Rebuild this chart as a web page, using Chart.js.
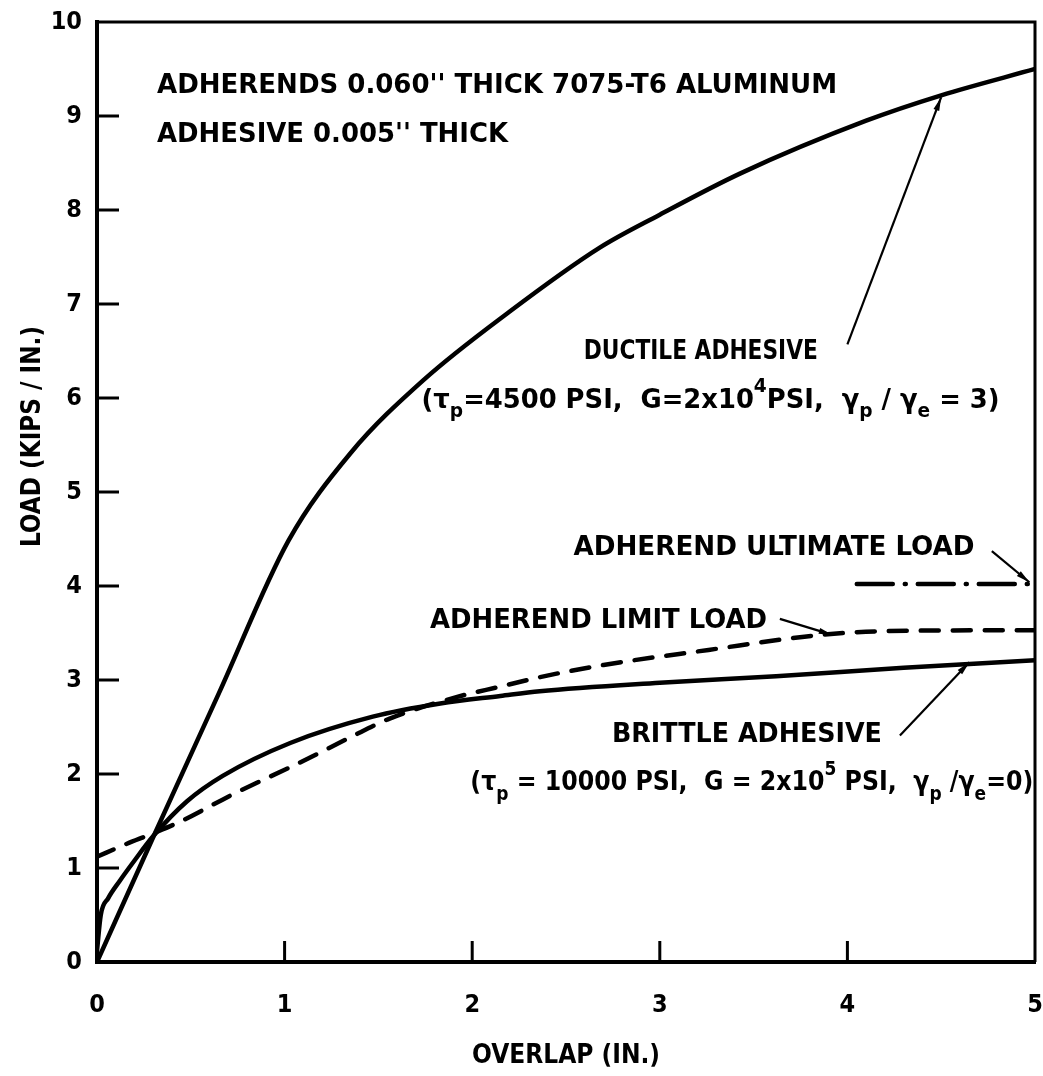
<!DOCTYPE html>
<html>
<head>
<meta charset="utf-8">
<script src="https://cdn.jsdelivr.net/npm/chart.js@4.4.1/dist/chart.umd.min.js"></script>
<style>
    html, body { margin: 0; padding: 0; background: #fff; }
    #wrap { width: 1043px; height: 1076px; }
</style>
</head>
<body>
<div id="wrap"><canvas id="loadChart" width="1043" height="1076"></canvas></div>
<script>
// overlap (in.) vs load (kips/in.)
const ductileX = [0, 0.3, 0.65, 1.02, 1.35, 1.74, 2.2, 2.68, 3.0, 3.43, 4.1, 4.5, 5.0];
const ductileY = [0, 1.33, 2.86, 4.48, 5.41, 6.19, 6.92, 7.6, 7.95, 8.39, 8.95, 9.22, 9.5];

const brittleX = [0, 0.02, 0.06, 0.12, 0.2, 0.3, 0.48, 0.67, 1.03, 1.47, 1.83, 2.15, 2.36, 3.0, 3.62, 4.3, 5.0];
const brittleY = [0.12, 0.5, 0.68, 0.86, 1.08, 1.34, 1.71, 1.98, 2.33, 2.61, 2.75, 2.83, 2.88, 2.97, 3.04, 3.13, 3.21];

const limitX = [0, 0.15, 0.3, 0.44, 0.73, 1.08, 1.35, 1.56, 1.92, 2.15, 2.36, 2.7, 3.26, 3.81, 4.2, 5.0];
const limitY = [1.12, 1.25, 1.37, 1.49, 1.79, 2.12, 2.39, 2.59, 2.82, 2.93, 3.03, 3.16, 3.32, 3.47, 3.52, 3.53];

const ultimateX = [4.05, 5.0];
const ultimateY = [4.02, 4.02];

const xTicks = [0, 1, 2, 3, 4, 5];
const yTicks = [0, 1, 2, 3, 4, 5, 6, 7, 8, 9, 10];

// 注释文字: [x, y, 目标宽度(px), 片段]
const notes = [
    [0.32, 9.32, 680, [['ADHERENDS 0.060\'\' THICK 7075-T6 ALUMINUM']]],
    [0.32, 8.80, 351, [['ADHESIVE 0.005\'\' THICK']]],
    [2.595, 6.49, 234, [['DUCTILE ADHESIVE']]],
    [1.73, 5.97, 578, [['(τ'], ['p', 'sub'], ['=4500 PSI,  G=2x10'], ['4', 'sup'], ['PSI,  γ'], ['p', 'sub'], [' / γ'], ['e', 'sub'], [' = 3)']]],
    [2.54, 4.40, 401, [['ADHEREND ULTIMATE LOAD']]],
    [1.775, 3.63, 337, [['ADHEREND LIMIT LOAD']]],
    [2.745, 2.415, 270, [['BRITTLE ADHESIVE']]],
    [1.99, 1.90, 563, [['(τ'], ['p', 'sub'], [' = 10000 PSI,  G = 2x10'], ['5', 'sup'], [' PSI,  γ'], ['p', 'sub'], [' /γ'], ['e', 'sub'], ['=0)']]]
];

// 箭头: 起点 -> 终点 (数据坐标)
const arrows = [
    [4.0, 6.57, 4.5, 9.2],
    [3.64, 3.65, 3.92, 3.48],
    [4.77, 4.37, 4.97, 4.04],
    [4.28, 2.41, 4.65, 3.19]
];

const FONT = '"Liberation Sans Narrow", "DejaVu Sans Condensed", sans-serif';

function drawRich(ctx, segs, x, y, width, size) {
    const parts = segs.map(s => {
        const sz = s[1] ? size * 0.72 : size;
        ctx.font = 'bold ' + sz + 'px ' + FONT;
        return { t: s[0], kind: s[1], sz: sz, w: ctx.measureText(s[0]).width };
    });
    const total = parts.reduce((a, p) => a + p.w, 0);
    ctx.save();
    ctx.translate(x, y);
    ctx.scale(width / total, 1);
    ctx.fillStyle = '#000';
    ctx.textBaseline = 'middle';
    let cx = 0;
    parts.forEach(p => {
        ctx.font = 'bold ' + p.sz + 'px ' + FONT;
        let dy = 0;
        if (p.kind === 'sub') dy = size * 0.42;
        if (p.kind === 'sup') dy = -size * 0.5;
        ctx.fillText(p.t, cx, dy);
        cx += p.w;
    });
    ctx.restore();
}

const framePlugin = {
    id: 'frame',
    afterDatasetsDraw(chart) {
        const { ctx, chartArea: a, scales: { x, y } } = chart;
        ctx.save();
        ctx.strokeStyle = '#000';
        ctx.lineCap = 'butt';
        // 上边和右边
        ctx.lineWidth = 3;
        ctx.beginPath();
        ctx.moveTo(a.left, a.top);
        ctx.lineTo(a.right, a.top);
        ctx.lineTo(a.right, a.bottom);
        ctx.stroke();
        // 内侧刻度
        ctx.lineWidth = 3;
        yTicks.slice(1, -1).forEach(v => {
            const py = y.getPixelForValue(v);
            ctx.beginPath();
            ctx.moveTo(a.left, py);
            ctx.lineTo(a.left + 22, py);
            ctx.stroke();
        });
        xTicks.slice(1, -1).forEach(v => {
            const px = x.getPixelForValue(v);
            ctx.beginPath();
            ctx.moveTo(px, a.bottom);
            ctx.lineTo(px, a.bottom - 21);
            ctx.stroke();
        });
        // 箭头
        ctx.lineWidth = 2.2;
        arrows.forEach(r => {
            const x0 = x.getPixelForValue(r[0]), y0 = y.getPixelForValue(r[1]);
            const x1 = x.getPixelForValue(r[2]), y1 = y.getPixelForValue(r[3]);
            const ang = Math.atan2(y1 - y0, x1 - x0);
            ctx.beginPath();
            ctx.moveTo(x0, y0);
            ctx.lineTo(x1, y1);
            ctx.stroke();
            ctx.beginPath();
            ctx.moveTo(x1, y1);
            ctx.lineTo(x1 - 14 * Math.cos(ang - 0.22), y1 - 14 * Math.sin(ang - 0.22));
            ctx.lineTo(x1 - 14 * Math.cos(ang + 0.22), y1 - 14 * Math.sin(ang + 0.22));
            ctx.closePath();
            ctx.fillStyle = '#000';
            ctx.fill();
        });
        // 文字
        notes.forEach(n => {
            drawRich(ctx, n[3], x.getPixelForValue(n[0]), y.getPixelForValue(n[1]), n[2], 27);
        });
        // Y轴标题
        ctx.translate(33, 437);
        ctx.rotate(-Math.PI / 2);
        drawRich(ctx, [['LOAD (KIPS / IN.)']], -110, 0, 221, 26);
        ctx.restore();
    }
};

function line(xs, ys, extra) {
    return Object.assign({
        data: xs.map((v, i) => ({ x: v, y: ys[i] })),
        showLine: true,
        borderColor: '#000',
        borderWidth: 4.5,
        pointRadius: 0,
        cubicInterpolationMode: 'monotone',
        borderCapStyle: 'round',
        borderJoinStyle: 'round'
    }, extra || {});
}

function noPad(s) {
    s.paddingLeft = 0;
    s.paddingRight = 0;
    s.paddingTop = 0;
    s.paddingBottom = 0;
}

const ctx = document.getElementById('loadChart').getContext('2d');
const loadChart = new Chart(ctx, {
    type: 'scatter',
    data: {
        datasets: [
            line(ductileX, ductileY),
            line(brittleX, brittleY),
            line(limitX, limitY, { borderDash: [18, 14] }),
            line(ultimateX, ultimateY, { borderDash: [36, 12, 1, 12] })
        ]
    },
    options: {
        responsive: false,
        devicePixelRatio: 1,
        animation: false,
        layout: {
            padding: { top: 22, right: 8, left: 0, bottom: 0 }
        },
        plugins: {
            legend: { display: false },
            tooltip: { enabled: false }
        },
        scales: {
            x: {
                type: 'linear',
                min: 0,
                max: 5,
                afterBuildTicks: s => { s.ticks = xTicks.map(v => ({ value: v })); },
                afterFit: s => { s.height = 114; noPad(s); },
                ticks: {
                    color: '#000',
                    padding: 28,
                    maxRotation: 0,
                    font: { family: FONT, size: 25, weight: 'bold' }
                },
                grid: { display: false, drawTicks: false, tickLength: 0 },
                border: { display: true, width: 4, color: '#000' },
                title: {
                    display: true,
                    text: 'OVERLAP (IN.)',
                    color: '#000',
                    padding: { top: 0, bottom: 4 },
                    font: { family: FONT, size: 26, weight: 'bold' }
                }
            },
            y: {
                type: 'linear',
                min: 0,
                max: 10,
                afterBuildTicks: s => { s.ticks = yTicks.map(v => ({ value: v })); },
                afterFit: s => { s.width = 97; noPad(s); },
                ticks: {
                    color: '#000',
                    padding: 15,
                    font: { family: FONT, size: 25, weight: 'bold' }
                },
                grid: { display: false, drawTicks: false, tickLength: 0 },
                border: { display: true, width: 4, color: '#000' }
            }
        }
    },
    plugins: [framePlugin]
});
</script>
</body>
</html>
